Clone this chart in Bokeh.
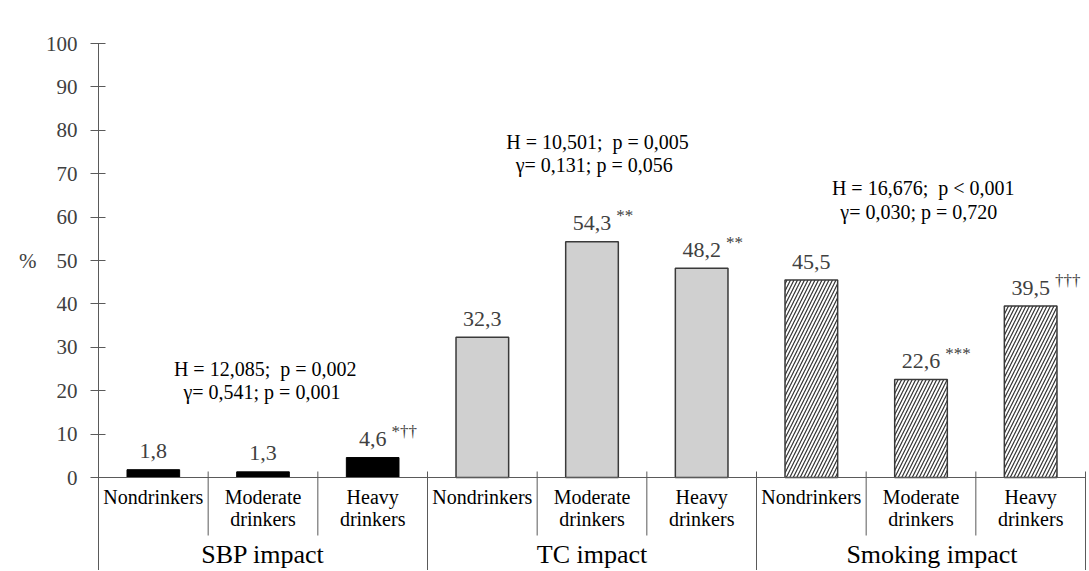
from bokeh.plotting import figure
from bokeh.models import Range1d, FixedTicker, LinearAxis
from bokeh.embed import file_html
from bokeh.resources import INLINE
from bokeh.core.properties import value

# ---------------- data ----------------
groups = ["SBP impact", "TC impact", "Smoking impact"]
drinker_line1 = ["Nondrinkers", "Moderate", "Heavy"]
drinker_line2 = ["", "drinkers", "drinkers"]
sbp_values = [1.8, 1.3, 4.6]
tc_values = [32.3, 54.3, 48.2]
smoking_values = [45.5, 22.6, 39.5]
sbp_marks = ["", "", "*††"]
tc_marks = ["", "**", "**"]
smoking_marks = ["", "***", "†††"]
stats_line1 = ["H = 12,085;\u00a0 p = 0,002", "H = 10,501;\u00a0 p = 0,005", "H = 16,676;\u00a0 p < 0,001"]
stats_line2 = ["γ= 0,541; p = 0,001", "γ= 0,131; p = 0,056", "γ= 0,030; p = 0,720"]
y_ticks = [0, 10, 20, 30, 40, 50, 60, 70, 80, 90, 100]
y_title = "%"

# ---------------- layout ----------------
W, H = 1087, 570
LEFT, TOP = 98, 43
AXIS_Y = 477                      # screen row of y = 0
PPU = (AXIS_Y - TOP) / 100.0      # px per y unit
Y_BOTTOM = -(H - AXIS_Y) / PPU
PPU_X = (1085 - LEFT) / 9.0
X_END = (W - LEFT) / PPU_X

def dy(px):
    return px / PPU

FONT_STACK = "'Liberation Serif', 'Times New Roman', 'Nimbus Roman', 'DejaVu Serif', serif"
SERIF = value(FONT_STACK)
AXIS_COLOR = "#5a5a5a"
LABEL_GRAY = "#404040"

p = figure(width=W, height=H, x_range=Range1d(0, X_END), y_range=Range1d(Y_BOTTOM, 100),
           output_backend="svg", toolbar_location=None, x_axis_location=None,
           min_border_left=LEFT, min_border_right=0, min_border_top=TOP, min_border_bottom=0)
p.outline_line_color = None
p.xgrid.visible = False
p.ygrid.visible = False
p.background_fill_color = "white"
p.border_fill_color = "white"

yax = p.yaxis[0]
yax.ticker = FixedTicker(ticks=y_ticks)
yax.axis_line_color = AXIS_COLOR
yax.major_tick_line_color = AXIS_COLOR
yax.minor_tick_line_color = None
yax.major_tick_in = 7
yax.major_tick_out = 8
yax.major_label_standoff = 13
yax.major_label_text_font = FONT_STACK
yax.major_label_text_font_size = "21px"
yax.major_label_text_color = LABEL_GRAY

# "%" title placed beside the 50 tick, through an extra unlined axis
title_axis = LinearAxis(ticker=FixedTicker(ticks=[50]), major_label_overrides={50: y_title},
                        axis_line_color=None, major_tick_line_color=None,
                        minor_tick_line_color=None, major_tick_in=0, major_tick_out=0,
                        major_label_standoff=6, major_label_text_font=FONT_STACK,
                        major_label_text_font_size="21px", major_label_text_color=LABEL_GRAY)
p.add_layout(title_axis, "left")

# ---------------- bars ----------------
series = [sbp_values, tc_values, smoking_values]
marks = [sbp_marks, tc_marks, smoking_marks]
styles = [
    dict(fill_color="black", line_color="black", line_width=1),
    dict(fill_color="#d0d0d0", line_color="#3a3a3a", line_width=1.5),
    dict(fill_color="white", line_color="#3a3a3a", line_width=1.5,
         hatch_pattern="/", hatch_color="#333333", hatch_scale=7, hatch_weight=1.2),
]

BAR_W = 0.48
for g, vals in enumerate(series):
    xs = [3 * g + i + 0.5 for i in range(len(vals))]
    p.vbar(x=xs, top=vals, bottom=0, width=BAR_W, **styles[g])

    labels = [f"{v:.1f}".replace(".", ",") for v in vals]
    p.text(x=xs, y=[v + dy(18.5) for v in vals], text=labels, text_align="center",
           text_baseline="middle", text_font=SERIF, text_font_size="22px",
           text_color=LABEL_GRAY)
    offs = [22 * (0.5 * (len(l) - 1) + 0.25) / 2 + 5 for l in labels]
    p.text(x=xs, y=[v + dy(26) for v in vals], text=marks[g], x_offset=offs,
           text_align="left", text_baseline="middle", text_font=SERIF,
           text_font_size="17px", text_color=LABEL_GRAY)

# ---------------- statistics annotations ----------------
STATS_X1 = [1.52, 4.55, 7.52]
STATS_X2 = [1.49, 4.52, 7.48]
STATS_Y1 = [25.1, 77.4, 66.8]
STATS_Y2 = [19.6, 71.9, 61.1]
p.text(x=STATS_X1, y=STATS_Y1, text=stats_line1, text_align="center", text_baseline="middle",
       text_font=SERIF, text_font_size="20px", text_color="black")
p.text(x=STATS_X2, y=STATS_Y2, text=stats_line2, text_align="center",
       text_baseline="middle", text_font=SERIF, text_font_size="20px", text_color="black")

# ---------------- category axis ----------------
p.segment(x0=[0], y0=[0], x1=[9], y1=[0], line_color=AXIS_COLOR, line_width=1)
short_x = [1, 2, 4, 5, 7, 8]
p.segment(x0=short_x, y0=[dy(6)] * len(short_x), x1=short_x, y1=[-dy(58)] * len(short_x),
          line_color=AXIS_COLOR, line_width=1)
long_x = [3, 6, 9]
p.segment(x0=long_x, y0=[dy(6)] * len(long_x), x1=long_x, y1=[Y_BOTTOM] * len(long_x),
          line_color=AXIS_COLOR, line_width=1)

cat_x = [3 * g + i + 0.5 for g in range(3) for i in range(3)]
p.text(x=cat_x, y=[-dy(19.5)] * 9, text=drinker_line1 * 3, text_align="center",
       text_baseline="middle", text_font=SERIF, text_font_size="20px", text_color="black")
p.text(x=cat_x, y=[-dy(41.5)] * 9, text=drinker_line2 * 3, text_align="center",
       text_baseline="middle", text_font=SERIF, text_font_size="20px", text_color="black")

GROUP_X = [1.5, 4.5, 7.6]
p.text(x=GROUP_X, y=[-dy(77)] * 3, text=groups, text_align="center",
       text_baseline="middle", text_font=SERIF, text_font_size="26px", text_color="black")

open("out.html", "w").write(file_html(p, INLINE))
